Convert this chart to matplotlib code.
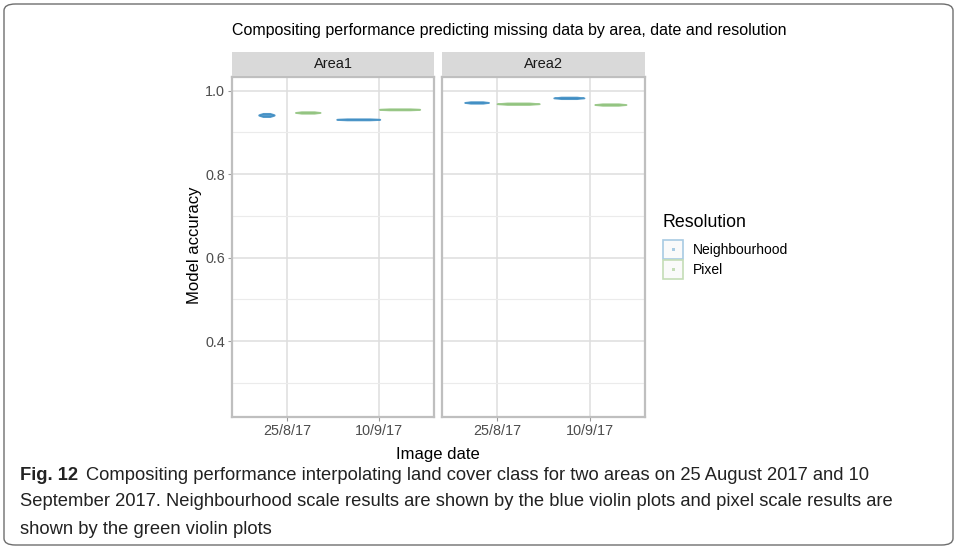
import matplotlib.pyplot as plt
import numpy as np
from matplotlib.patches import FancyBboxPatch, Rectangle

# ---- data -------------------------------------------------------------
areas = ["Area1", "Area2"]
dates = ["25/8/17", "10/9/17"]
resolutions = ["Neighbourhood", "Pixel"]

# model accuracy samples
area1_25aug_nbh = [0.938, 0.940, 0.941, 0.942, 0.943, 0.944, 0.946]
area1_25aug_pix = [0.946, 0.947, 0.948, 0.948, 0.949, 0.950]
area1_10sep_nbh = [0.930, 0.931, 0.931, 0.932, 0.932, 0.933]
area1_10sep_pix = [0.954, 0.955, 0.955, 0.956, 0.956, 0.957]
area2_25aug_nbh = [0.970, 0.971, 0.972, 0.972, 0.973, 0.974]
area2_25aug_pix = [0.967, 0.968, 0.969, 0.969, 0.970, 0.971]
area2_10sep_nbh = [0.981, 0.982, 0.983, 0.983, 0.984, 0.985]
area2_10sep_pix = [0.965, 0.966, 0.967, 0.967, 0.968, 0.969]

samples = {
    ("Area1", "25/8/17", "Neighbourhood"): area1_25aug_nbh,
    ("Area1", "25/8/17", "Pixel"): area1_25aug_pix,
    ("Area1", "10/9/17", "Neighbourhood"): area1_10sep_nbh,
    ("Area1", "10/9/17", "Pixel"): area1_10sep_pix,
    ("Area2", "25/8/17", "Neighbourhood"): area2_25aug_nbh,
    ("Area2", "25/8/17", "Pixel"): area2_25aug_pix,
    ("Area2", "10/9/17", "Neighbourhood"): area2_10sep_nbh,
    ("Area2", "10/9/17", "Pixel"): area2_10sep_pix,
}

# ---- style ------------------------------------------------------------
violin_widths = {
    ("Area1", "25/8/17", "Neighbourhood"): 0.17,
    ("Area1", "25/8/17", "Pixel"): 0.27,
    ("Area1", "10/9/17", "Neighbourhood"): 0.47,
    ("Area1", "10/9/17", "Pixel"): 0.44,
    ("Area2", "25/8/17", "Neighbourhood"): 0.26,
    ("Area2", "25/8/17", "Pixel"): 0.46,
    ("Area2", "10/9/17", "Neighbourhood"): 0.33,
    ("Area2", "10/9/17", "Pixel"): 0.34,
}
colors = {"Neighbourhood": "#3B8BC2", "Pixel": "#8FC27C"}
key_edges = {"Neighbourhood": "#A8CBE3", "Pixel": "#C4DDB6"}
dodge = {"Neighbourhood": -0.225, "Pixel": 0.225}

plt.rcParams["font.family"] = ["Liberation Sans", "DejaVu Sans"]

W, H = 957, 549
fig = plt.figure(figsize=(W / 100, H / 100), dpi=100)


def px_rect(x0, y0, x1, y1):
    return [x0 / W, 1 - y1 / H, (x1 - x0) / W, (y1 - y0) / H]


# outer frame
fig.patches.append(FancyBboxPatch((4 / W, 4 / H), (W - 8) / W, (H - 8) / H,
                                  boxstyle="round,pad=0,rounding_size=0.012",
                                  transform=fig.transFigure, fill=False,
                                  edgecolor="#6E6E6E", linewidth=1.0))

fig.text(509 / W, 1 - 31 / H,
         "Compositing performance predicting missing data by area, date and resolution",
         ha="center", va="center", fontsize=11.5, color="black")

panel_x = [(232, 434), (442, 645)]
for i, area in enumerate(areas):
    x0, x1 = panel_x[i]
    ax = fig.add_axes(px_rect(x0, 77, x1, 417))
    # strip
    sax = fig.add_axes(px_rect(x0, 52, x1, 76))
    sax.set_facecolor("#D9D9D9")
    sax.set_xticks([])
    sax.set_yticks([])
    for s in sax.spines.values():
        s.set_visible(False)
    sax.text(0.5, 0.5, area, ha="center", va="center", fontsize=10.5,
             color="#1A1A1A", transform=sax.transAxes)

    xpos = np.arange(1, len(dates) + 1)
    for j, date in enumerate(dates):
        for res in resolutions:
            key = (area, date, res)
            parts = ax.violinplot([samples[key]], positions=[xpos[j] + dodge[res]],
                                  widths=violin_widths[key], showextrema=False,
                                  bw_method=0.5)
            for body in parts["bodies"]:
                body.set_facecolor(colors[res])
                body.set_edgecolor(colors[res])
                body.set_alpha(0.85)
                body.set_linewidth(1.2)

    ax.set_xlim(0.4, 2.6)
    ax.set_ylim(0.218, 1.033)
    ax.set_xticks(xpos)
    ax.set_xticklabels(dates)
    ax.set_yticks([0.4, 0.6, 0.8, 1.0])
    ax.set_yticks([0.3, 0.5, 0.7, 0.9], minor=True)
    ax.grid(True, which="major", color="#DEDEDE", linewidth=1.1)
    ax.grid(True, which="minor", axis="y", color="#EBEBEB", linewidth=0.8)
    ax.set_axisbelow(True)
    ax.tick_params(axis="both", which="major", length=3, color="#9A9A9A",
                   labelsize=10.4, labelcolor="#4D4D4D", pad=2)
    ax.tick_params(axis="both", which="minor", length=0)
    for s in ax.spines.values():
        s.set_color("#BFBFBF")
        s.set_linewidth(1.6)
    if i == 0:
        ax.set_yticklabels(["0.4", "0.6", "0.8", "1.0"])
    else:
        ax.tick_params(axis="y", which="major", length=0, labelleft=False)

fig.text(194 / W, 1 - 245 / H, "Model accuracy", rotation=90, ha="center",
         va="center", fontsize=12)
fig.text(438 / W, 1 - 454 / H, "Image date", ha="center", va="center",
         fontsize=12)

# legend
fig.text(663 / W, 1 - 223 / H, "Resolution", ha="left", va="center", fontsize=12.8)
for k, res in enumerate(resolutions):
    y0 = 240 + k * 19.5
    fig.patches.append(Rectangle((663 / W, 1 - (y0 + 19) / H), 20 / W, 19 / H,
                                 transform=fig.transFigure, facecolor="#FAFAFA",
                                 edgecolor=key_edges[res], linewidth=1.2))
    fig.patches.append(Rectangle((671.5 / W, 1 - (y0 + 11) / H), 3 / W, 3 / H,
                                 transform=fig.transFigure, facecolor=key_edges[res],
                                 edgecolor="none"))
    fig.text(693 / W, 1 - (y0 + 10) / H, res, ha="left", va="center", fontsize=10)

# caption
cap_font = ["Liberation Sans", "DejaVu Sans"]
fig.canvas.draw()
renderer = fig.canvas.get_renderer()
bold = fig.text(20 / W, 1 - 475 / H, "Fig. 12", ha="left", va="center",
                fontsize=13.2, fontweight="bold", family=cap_font, color="#222222")
bb = bold.get_window_extent(renderer)
fig.text((bb.x1 + 8) / W, 1 - 475 / H,
         "Compositing performance interpolating land cover class for two areas on 25 August 2017 and 10",
         ha="left", va="center", fontsize=13.2, family=cap_font, color="#222222")
fig.text(20 / W, 1 - 502 / H,
         "September 2017. Neighbourhood scale results are shown by the blue violin plots and pixel scale results are",
         ha="left", va="center", fontsize=13.2, family=cap_font, color="#222222")
fig.text(20 / W, 1 - 529 / H, "shown by the green violin plots",
         ha="left", va="center", fontsize=13.2, family=cap_font, color="#222222")

fig.savefig("out.png", dpi=100)
